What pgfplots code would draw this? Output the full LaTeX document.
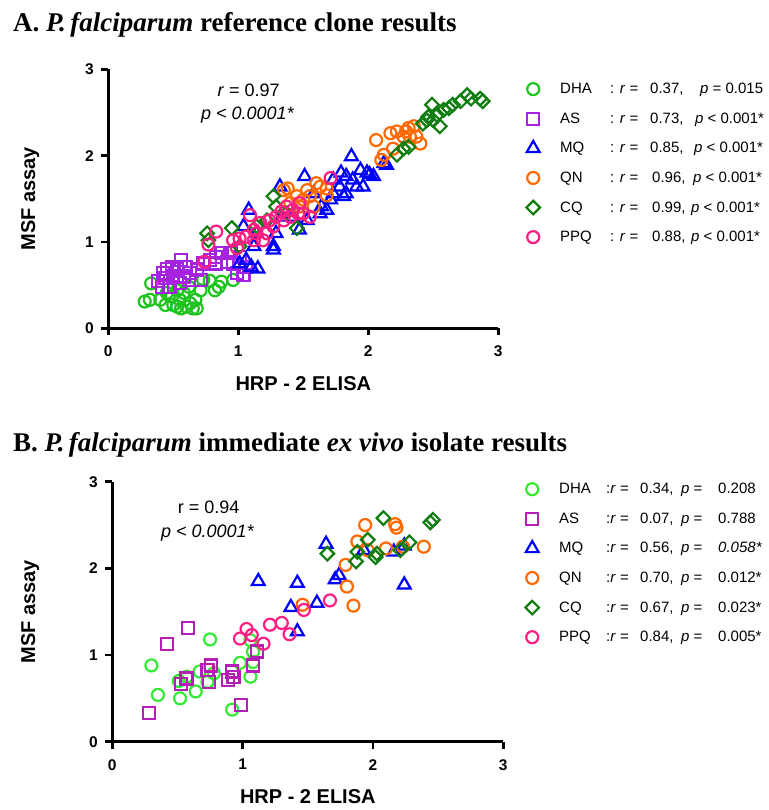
\documentclass[border=0pt]{standalone}
\usepackage{fontspec}
\setmainfont{Liberation Serif}
\newfontfamily\arial{Liberation Sans}
\usepackage{pgfplots}
\pgfplotsset{compat=1.18}
\definecolor{dhaA}{RGB}{30,196,30}
\definecolor{dhaB}{RGB}{50,235,50}
\definecolor{asA}{RGB}{165,35,225}
\definecolor{asB}{RGB}{180,30,180}
\definecolor{mq}{RGB}{0,0,255}
\definecolor{qn}{RGB}{255,105,0}
\definecolor{cq}{RGB}{16,125,16}
\definecolor{ppq}{RGB}{255,30,130}
\pgfplotsset{
  mymark/.style={only marks, mark options={line width=2.2pt, fill=none},
    legend image code/.code={\path[draw=none,fill=none] (-8pt,0pt) -- (26pt,0pt); \draw[##1] plot coordinates {(0pt,0pt)};}},
  mycirc/.style={mymark, mark=o, mark size=6pt, color=#1},
  mysq/.style={mymark, mark=square, mark size=6pt, color=#1},
  mytri/.style={mymark, mark=triangle, mark size=7.4pt, color=#1},
  mydia/.style={mymark, mark=square, mark size=4.8pt, color=#1, mark options={rotate=45, line width=2.2pt, fill=none}},
  mypanel/.style={
    scale only axis,
    xmin=0, xmax=3, ymin=0, ymax=3,
    xtick={0,1,2,3}, ytick={0,1,2,3},
    axis x line*=bottom, axis y line*=left,
    axis line style={line width=2.8pt, -},
    major tick style={line width=2.8pt, black},
    tick align=outside, major tick length=7pt,
    /pgf/number format/assume math mode=true,
    ticklabel style={font=\arial\bfseries\fontsize{15.5}{15.5}\selectfont},
    xticklabel style={yshift=-7pt},
    yticklabel style={xshift=-4pt},
    clip=false,
    xlabel={HRP - 2 ELISA}, ylabel={MSF assay},
    legend cell align=left,
    legend style={draw=none, fill=none, inner sep=0pt, column sep=0pt, row sep=12.6pt,
      font=\arial\fontsize{15}{15}\selectfont,
      nodes={inner sep=1pt, text height=12pt, text depth=3pt},
      anchor=north west},
  }
}
\begin{document}
\begin{tikzpicture}
\path[use as bounding box] (0,0) rectangle (768pt,810pt);
\node[anchor=base west, font=\bfseries\fontsize{27}{27}\selectfont, inner sep=0pt] at (13pt,778pt) {A. \textit{P.\,falciparum} reference clone results};
\node[anchor=base west, font=\bfseries\fontsize{27}{27}\selectfont, inner sep=0pt] at (13pt,358pt) {B. \textit{P.\,falciparum} immediate \textit{ex vivo} isolate results};

% Panel A
\begin{axis}[mypanel, at={(108.3pt,481.7pt)}, anchor=south west, width=390pt, height=259pt,
  every axis x label/.style={at={(axis description cs:0.5,-0.212)}, anchor=center, font=\arial\bfseries\fontsize{20}{20}\selectfont},
  every axis y label/.style={at={(axis description cs:-0.2,0.5)}, rotate=90, anchor=center, font=\arial\bfseries\fontsize{20}{20}\selectfont},
  legend style={at={(axis description cs:1.0685,0.957)}}]
\addplot[mycirc=dhaA] coordinates {
(0.28,0.31) (0.32,0.33) (0.33,0.52) (0.44,0.27) (0.45,0.41) (0.53,0.25) (0.55,0.33) (0.58,0.41)
(0.60,0.25) (0.63,0.29) (0.68,0.23) (0.67,0.33) (0.71,0.44) (0.73,0.56) (0.82,0.44) (0.85,0.48)
(0.87,0.54) (0.96,0.56) (0.40,0.33) (0.49,0.37) (0.62,0.48) (0.53,0.44) (0.65,0.23) (0.56,0.23)
(0.50,0.27) (0.78,0.55)};
\addlegendentry{\makebox[50pt][l]{DHA}\makebox[40pt][l]{: \textit{r} =}\makebox[50pt][l]{0.37,}\textit{p} = 0.015}
\addplot[mysq=asA] coordinates {
(0.42,0.64) (0.45,0.69) (0.49,0.71) (0.53,0.69) (0.56,0.79) (0.60,0.71) (0.63,0.64) (0.68,0.68)
(0.71,0.56) (0.41,0.48) (0.47,0.48) (0.55,0.52) (0.62,0.56) (0.73,0.75) (0.58,0.60) (0.50,0.60)
(0.44,0.58) (0.78,0.79) (0.83,0.83) (0.87,0.87) (0.91,0.77) (0.96,0.75) (0.99,0.64) (1.04,0.62)
(1.06,0.71) (1.01,0.83) (0.94,0.87) (0.83,0.75) (0.38,0.55)};
\addlegendentry{\makebox[50pt][l]{AS}\makebox[40pt][l]{: \textit{r} =}\makebox[45pt][l]{0.73,}\textit{p} {\textless} 0.001*}
\addplot[mytri=mq] coordinates {
(1.04,1.18) (1.08,1.37) (1.10,0.71) (1.15,0.69) (1.01,0.75) (1.06,0.79) (1.12,0.95) (1.14,1.10)
(1.27,0.95) (1.29,1.10) (1.32,1.64) (1.33,1.29) (1.47,1.14) (1.51,1.76) (1.53,1.25) (1.63,1.33)
(1.64,1.41) (1.73,1.56) (1.78,1.64) (1.79,1.80) (1.83,1.76) (1.87,1.99) (1.88,1.72) (1.94,1.83)
(1.96,1.64) (1.99,1.80) (2.04,1.76) (2.12,1.91) (1.71,1.49) (1.83,1.56) (1.42,1.29) (1.58,1.56)
(1.68,1.37) (1.81,1.53) (1.91,1.64) (2.01,1.78) (1.27,0.91) (1.73,1.72) (2.14,1.89)};
\addlegendentry{\makebox[50pt][l]{MQ}\makebox[40pt][l]{: \textit{r} =}\makebox[44pt][l]{0.85,}\textit{p} {\textless} 0.001*}
\addplot[mycirc=qn] coordinates {
(1.35,1.60) (1.38,1.62) (1.45,1.53) (1.50,1.49) (1.53,1.60) (1.55,1.53) (1.60,1.68) (1.63,1.64)
(1.68,1.54) (1.58,1.41) (1.47,1.41) (1.40,1.45) (2.06,2.18) (2.10,1.95) (2.12,2.01) (2.17,2.26)
(2.22,2.28) (2.27,2.22) (2.31,2.32) (2.35,2.34) (2.32,2.22) (2.37,2.22) (2.40,2.14) (2.19,2.08)
(2.29,2.28) (1.68,1.62)};
\addlegendentry{\makebox[50pt][l]{QN}\makebox[42pt][l]{: \textit{r} =}\makebox[41pt][l]{0.96,}\textit{p} {\textless} 0.001*}
\addplot[mydia=cq] coordinates {
(0.76,1.10) (0.77,1.02) (0.95,1.16) (1.01,0.95) (1.14,1.18) (1.22,1.25) (1.27,1.53) (1.29,1.41)
(1.45,1.16) (2.22,2.01) (2.27,2.08) (2.31,2.10) (2.42,2.37) (2.46,2.45) (2.50,2.41) (2.55,2.34)
(2.49,2.59) (2.58,2.53) (2.62,2.55) (2.71,2.63) (2.76,2.70) (2.79,2.66) (2.86,2.66) (2.88,2.63)
(2.65,2.59) (2.53,2.47) (2.45,2.41) (1.37,1.33)};
\addlegendentry{\makebox[50pt][l]{CQ}\makebox[42pt][l]{: \textit{r} =}\makebox[39pt][l]{0.99,}\textit{p} {\textless} 0.001*}
\addplot[mycirc=ppq] coordinates {
(0.74,0.77) (0.77,0.97) (0.83,1.12) (0.96,1.02) (0.99,0.93) (1.01,1.04) (1.09,1.31) (1.12,1.14)
(1.17,1.22) (1.22,1.10) (1.24,1.25) (1.29,1.29) (1.33,1.35) (1.37,1.41) (1.42,1.37) (1.47,1.45)
(1.50,1.33) (1.55,1.29) (1.19,1.02) (1.12,1.02) (1.06,1.06) (1.71,1.74) (1.35,1.25) (1.27,1.18)
(1.14,1.10) (1.40,1.29) (1.46,1.33)};
\addlegendentry{\makebox[50pt][l]{PPQ}\makebox[42pt][l]{: \textit{r} =}\makebox[39pt][l]{0.88,}\textit{p} {\textless} 0.001*}
\node[font=\arial\fontsize{18}{18}\selectfont] at (axis cs:1.08,2.76) {\textit{r} = 0.97};
\node[font=\arial\itshape\fontsize{18}{18}\selectfont] at (axis cs:1.07,2.47) {p {\textless} 0.0001*};
\end{axis}

% Panel B
\begin{axis}[mypanel, at={(112.3pt,68.3pt)}, anchor=south west, width=391pt, height=260pt,
  every axis x label/.style={at={(axis description cs:0.5,-0.212)}, anchor=center, font=\arial\bfseries\fontsize{20}{20}\selectfont},
  every axis y label/.style={at={(axis description cs:-0.21,0.5)}, rotate=90, anchor=center, font=\arial\bfseries\fontsize{20}{20}\selectfont},
  legend style={at={(axis description cs:1.053,1.0046)}}]
\addplot[mycirc=dhaB] coordinates {
(0.30,0.88) (0.35,0.54) (0.51,0.70) (0.52,0.50) (0.64,0.58) (0.57,0.75) (0.67,0.81) (0.75,1.18)
(0.78,0.79) (0.73,0.69) (0.92,0.37) (0.98,0.91) (1.06,0.75) (1.08,0.92) (1.06,1.17) (1.08,1.04)};
\addlegendentry{\makebox[47pt][l]{DHA}\makebox[34pt][l]{:\textit{r} =}\makebox[41pt][l]{0.34,}\makebox[37pt][l]{\textit{p} =}0.208}
\addplot[mysq=asB] coordinates {
(0.28,0.33) (0.42,1.13) (0.58,1.31) (0.53,0.67) (0.57,0.73) (0.73,0.83) (0.76,0.88) (0.74,0.69)
(0.89,0.71) (0.92,0.81) (0.93,0.75) (0.99,0.42) (1.08,0.88) (1.11,1.04)};
\addlegendentry{\makebox[47pt][l]{AS}\makebox[34pt][l]{:\textit{r} =}\makebox[41pt][l]{0.07,}\makebox[37pt][l]{\textit{p} =}0.788}
\addplot[mytri=mq] coordinates {
(1.12,1.85) (1.42,1.83) (1.37,1.55) (1.42,1.27) (1.57,1.60) (1.64,2.28) (1.71,1.87) (1.74,1.92)
(1.93,2.21) (2.16,2.19) (2.24,1.81) (2.24,2.26)};
\addlegendentry{\makebox[47pt][l]{MQ}\makebox[34pt][l]{:\textit{r} =}\makebox[41pt][l]{0.56,}\makebox[37pt][l]{\textit{p} =}\textit{0.058*}}
\addplot[mycirc=qn] coordinates {
(1.46,1.58) (1.79,2.04) (1.80,1.79) (1.85,1.57) (1.88,2.31) (1.94,2.50) (1.96,2.21) (2.10,2.23)
(2.17,2.51) (2.18,2.47) (2.23,2.25) (2.39,2.25)};
\addlegendentry{\makebox[47pt][l]{QN}\makebox[34pt][l]{:\textit{r} =}\makebox[41pt][l]{0.70,}\makebox[37pt][l]{\textit{p} =}0.012*}
\addplot[mydia=cq] coordinates {
(1.65,2.17) (1.87,2.08) (1.88,2.19) (1.96,2.33) (2.02,2.13) (2.03,2.17) (2.08,2.58) (2.21,2.21)
(2.28,2.30) (2.44,2.53) (2.46,2.56)};
\addlegendentry{\makebox[47pt][l]{CQ}\makebox[34pt][l]{:\textit{r} =}\makebox[41pt][l]{0.67,}\makebox[37pt][l]{\textit{p} =}0.023*}
\addplot[mycirc=ppq] coordinates {
(0.98,1.19) (1.03,1.30) (1.07,1.23) (1.16,1.13) (1.21,1.35) (1.30,1.37) (1.36,1.24) (1.67,1.63)
(1.47,1.52)};
\addlegendentry{\makebox[47pt][l]{PPQ}\makebox[34pt][l]{:\textit{r} =}\makebox[41pt][l]{0.84,}\makebox[37pt][l]{\textit{p} =}0.005*}
\node[font=\arial\fontsize{18}{18}\selectfont] at (axis cs:0.74,2.71) {r = 0.94};
\node[font=\arial\itshape\fontsize{18}{18}\selectfont] at (axis cs:0.73,2.41) {p {\textless} 0.0001*};
\end{axis}
\end{tikzpicture}
\end{document}
